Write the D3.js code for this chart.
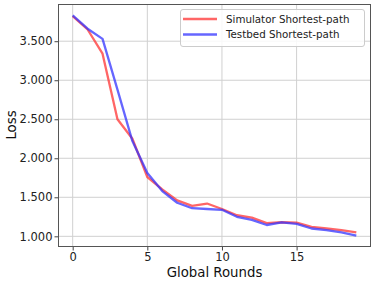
<!DOCTYPE html>
<html><head><meta charset="utf-8">
<script src="https://cdn.jsdelivr.net/npm/d3@7"></script>
<style>body{margin:0;background:#fff;} svg{display:block;font-family:"DejaVu Sans",sans-serif;}</style>
</head><body>
<script>
const rounds = d3.range(0, 20);
const simulatorLoss = [3.82,3.65,3.34,2.50,2.25,1.76,1.60,1.46,1.39,1.42,1.35,1.27,1.24,1.17,1.18,1.175,1.12,1.10,1.08,1.05];
const testbedLoss   = [3.83,3.66,3.53,2.88,2.22,1.81,1.58,1.43,1.36,1.35,1.34,1.25,1.21,1.145,1.18,1.16,1.10,1.08,1.05,1.01];
const seriesNames = ["Simulator Shortest-path","Testbed Shortest-path"];
const seriesColors = ["#ff3333","#3333ff"];
const xTicks = [0,5,10,15];
const yTicks = [1.0,1.5,2.0,2.5,3.0,3.5];

const W=374,H=282, L=58.5, R=370.5, T=4.5, B=246.5;
const svg=d3.select("body").append("svg").attr("width",W).attr("height",H);
const x=d3.scaleLinear().domain([-0.95,19.95]).range([L,R]);
const y=d3.scaleLinear().domain([0.8695,3.9705]).range([B,T]);

// grid
svg.append("g").selectAll("line").data(xTicks).join("line")
  .attr("x1",d=>x(d)).attr("x2",d=>x(d)).attr("y1",T).attr("y2",B)
  .attr("stroke","#d0d0d0").attr("stroke-width",1);
svg.append("g").selectAll("line").data(yTicks).join("line")
  .attr("y1",d=>y(d)).attr("y2",d=>y(d)).attr("x1",L).attr("x2",R)
  .attr("stroke","#d0d0d0").attr("stroke-width",1);

// axes
const fmt=d3.format(".3f");
const xa=svg.append("g").attr("transform",`translate(0,${B})`)
  .call(d3.axisBottom(x).tickValues(xTicks).tickSize(4).tickPadding(2).tickFormat(d3.format("d")));
const ya=svg.append("g").attr("transform",`translate(${L},0)`)
  .call(d3.axisLeft(y).tickValues(yTicks).tickSize(4).tickPadding(2).tickFormat(fmt));
[xa,ya].forEach(a=>{a.select(".domain").remove();
  a.selectAll("text").attr("font-family","DejaVu Sans").attr("font-size",11.5).attr("fill","#222");
  a.selectAll("line").attr("stroke","#444");});

// lines
const line=d3.line().x((d,i)=>x(rounds[i])).y(d=>y(d));
[simulatorLoss,testbedLoss].forEach((s,k)=>{
  svg.append("path").datum(s).attr("d",line).attr("fill","none")
    .attr("stroke",seriesColors[k]).attr("stroke-width",2.3).attr("stroke-opacity",0.75)
    .attr("stroke-linejoin","round");
});

// frame
svg.append("rect").attr("x",L).attr("y",T).attr("width",R-L).attr("height",B-T)
  .attr("fill","none").attr("stroke","#555").attr("stroke-width",1);

// legend
const lg=svg.append("g");
lg.append("rect").attr("x",180.5).attr("y",9.5).attr("width",184).attr("height",37).attr("rx",2.5)
  .attr("fill","#fff").attr("fill-opacity",0.85).attr("stroke","#ccc");
seriesNames.forEach((n,k)=>{
  const yy=19+k*15.5;
  lg.append("line").attr("x1",183).attr("x2",217).attr("y1",yy).attr("y2",yy)
    .attr("stroke",seriesColors[k]).attr("stroke-width",2.3).attr("stroke-opacity",0.75);
  lg.append("text").attr("x",226).attr("y",yy+3.7).text(n)
    .attr("font-size",10.3).attr("fill","#222");
});

// axis labels
svg.append("text").attr("x",(L+R)/2).attr("y",276.5).attr("text-anchor","middle")
  .attr("font-size",13.3).attr("fill","#111").text("Global Rounds");
svg.append("text").attr("transform",`translate(15.5,125) rotate(-90)`).attr("text-anchor","middle")
  .attr("font-size",13.3).attr("fill","#111").text("Loss");
</script>
</body></html>
